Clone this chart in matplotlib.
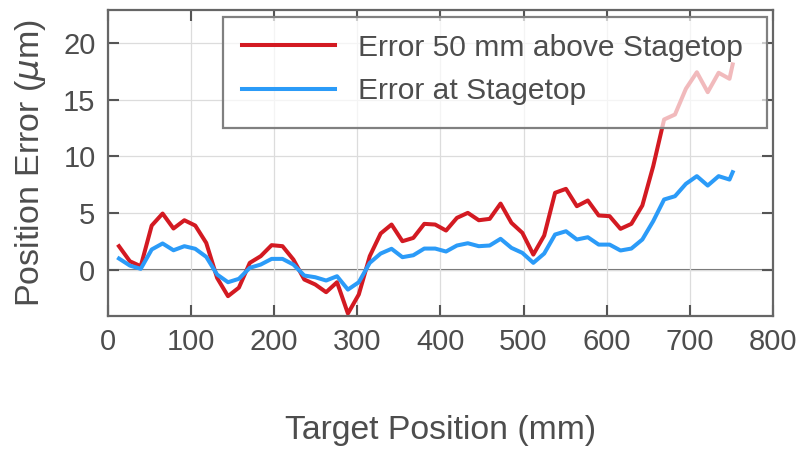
import numpy as np
import matplotlib
matplotlib.use('Agg')
import matplotlib.pyplot as plt
from matplotlib.patches import Rectangle

plt.rcParams['font.family'] = ['Liberation Sans', 'DejaVu Sans']

# target positions (mm)
pos = [13.2, 26.3, 39.4, 52.6, 65.7, 78.8, 91.9, 105.0, 118.2, 131.3,
       144.4, 157.5, 170.6, 183.8, 196.9, 210.0, 223.1, 236.2, 249.4, 262.5,
       275.6, 288.7, 301.8, 315.0, 328.1, 341.2, 354.3, 367.4, 380.6, 393.7,
       406.8, 419.9, 433.0, 446.2, 459.3, 472.4, 485.5, 498.6, 511.8, 524.9,
       538.0, 551.1, 564.2, 577.4, 590.5, 603.6, 616.7, 629.8, 643.0, 656.1,
       669.2, 682.3, 695.4, 708.6, 721.7, 734.8, 747.9, 751.7]

# error 50 mm above stagetop (um)
err_above = [2.06, 0.73, 0.29, 3.88, 4.94, 3.62, 4.35, 3.88, 2.35, -0.74,
             -2.35, -1.60, 0.59, 1.18, 2.15, 2.06, 0.88, -0.88, -1.32, -2.00,
             -1.12, -3.88, -2.20, 1.18, 3.18, 3.97, 2.50, 2.79, 4.03, 3.97,
             3.44, 4.56, 5.00, 4.35, 4.47, 5.82, 4.12, 3.24, 1.32, 3.00,
             6.77, 7.12, 5.59, 6.09, 4.77, 4.71, 3.59, 4.03, 5.65, 9.12,
             13.24, 13.68, 15.95, 17.41, 15.65, 17.36, 16.83, 18.10]

# error at stagetop (um)
err_top = [0.97, 0.35, 0.06, 1.77, 2.30, 1.70, 2.06, 1.83, 1.12, -0.44,
           -1.12, -0.82, 0.15, 0.44, 0.94, 0.94, 0.44, -0.53, -0.68, -0.97,
           -0.59, -1.77, -1.12, 0.59, 1.41, 1.83, 1.09, 1.26, 1.85, 1.85,
           1.59, 2.12, 2.32, 2.06, 2.12, 2.71, 1.91, 1.47, 0.59, 1.41,
           3.09, 3.38, 2.65, 2.85, 2.20, 2.20, 1.68, 1.85, 2.65, 4.27,
           6.18, 6.47, 7.56, 8.24, 7.41, 8.24, 7.94, 8.59]

txt = '#4d4d4d'
fig = plt.figure(figsize=(8, 4.55), dpi=100)
ax = fig.add_axes([0.135, 0.3055, 0.831, 0.6725])

ax.grid(True, color='#dcdcdc', linewidth=0.9)
ax.axhline(0, color='#6e6e6e', linewidth=1.5, zorder=1.5)
ax.plot(pos, err_above, color='#d31a22', linewidth=2.9, label='Error 50 mm above Stagetop')
ax.plot(pos, err_top, color='#2b9bf8', linewidth=2.9, label='Error at Stagetop')

ax.set_xlim(0, 800)
ax.set_ylim(-4.1, 22.9)
ax.set_xticks(np.arange(0, 801, 100))
ax.set_yticks([0, 5, 10, 15, 20])
ax.tick_params(direction='in', length=8, width=1.5, color='#555555',
               labelsize=21, labelcolor=txt, top=True, right=True, pad=9)
for s in ax.spines.values():
    s.set_color('#666666')
    s.set_linewidth(1.6)

ax.set_xlabel('Target Position (mm)', fontsize=24.3, color=txt, labelpad=42)
ax.set_ylabel(r'Position Error ($\mu$m)', fontsize=24.5, color=txt, labelpad=11)

# semi-transparent legend box, drawn over the lines
box = Rectangle((0.1725, 0.614), 0.8185, 0.364, transform=ax.transAxes,
                facecolor='white', alpha=0.7, edgecolor='none', zorder=4)
ax.add_patch(box)
edge = Rectangle((0.1725, 0.614), 0.8185, 0.364, transform=ax.transAxes,
                 facecolor='none', edgecolor='#808080', linewidth=1.6, zorder=4.1)
ax.add_patch(edge)

leg = ax.legend(loc='upper left', bbox_to_anchor=(0.201, 0.922), fontsize=21.6,
                handlelength=3.1, handletextpad=0.78, labelspacing=0.52,
                borderpad=0, borderaxespad=0, frameon=False)
leg.set_zorder(5)
for t in leg.get_texts():
    t.set_color(txt)

plt.savefig('out.png', dpi=100)
